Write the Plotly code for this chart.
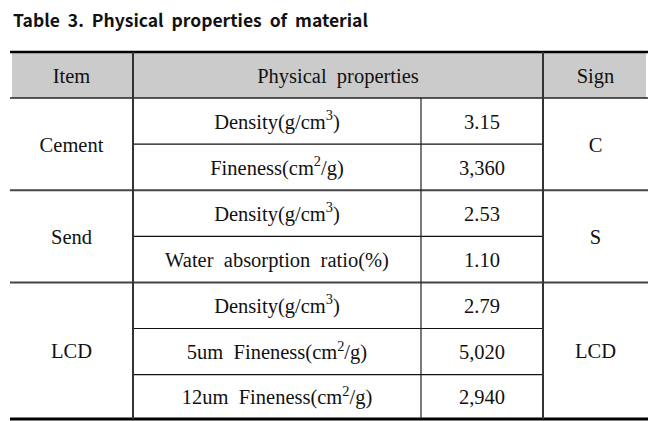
import plotly.graph_objects as go

# ---- table content ----
title = "Table  3.  Physical  properties  of  material"
headers = ["Item", "Physical  properties", "Sign"]
items = ["Cement", "Send", "LCD"]
item_rows = [2, 2, 3]
properties = [
    "Density(g/cm<sup>3</sup>)",
    "Fineness(cm<sup>2</sup>/g)",
    "Density(g/cm<sup>3</sup>)",
    "Water  absorption  ratio(%)",
    "Density(g/cm<sup>3</sup>)",
    "5um  Fineness(cm<sup>2</sup>/g)",
    "12um  Fineness(cm<sup>2</sup>/g)",
]
values = ["3.15", "3,360", "2.53", "1.10", "2.79", "5,020", "2,940"]
signs = ["C", "S", "LCD"]

# ---- geometry (page pixels) ----
W, H = 667, 421
OFF = 8  # default page body margin
col_x = [10, 133, 421, 543, 648]
top_y = 52
head_h = 46
row_h = 46.1

def nb(s):
    return s.replace("  ", " \u00a0")

row_top = [top_y + head_h + i * row_h for i in range(len(properties) + 1)]
row_top[-1] = 419
row_mid = [(row_top[i] + row_top[i + 1]) / 2 for i in range(len(properties))]

group_bounds = []
start = 0
for n in item_rows:
    group_bounds.append((start, start + n))
    start += n
group_mid = [(row_top[a] + row_top[b]) / 2 for a, b in group_bounds]

font_body = dict(family="Liberation Serif, Times New Roman, serif", size=20.5, color="#111111")
DY = 2.5

fig = go.Figure()

shapes = [dict(type="rect", x0=col_x[0] + 2, x1=col_x[-1] - 2, y0=top_y + 1, y1=top_y + head_h,
               fillcolor="#cbcbcb", line=dict(width=0), layer="below")]

def hline(y, x0, x1, w, c):
    shapes.append(dict(type="line", x0=x0, x1=x1, y0=y, y1=y, line=dict(color=c, width=w)))

def vline(x, y0, y1, w, c):
    shapes.append(dict(type="line", x0=x, x1=x, y0=y0, y1=y1, line=dict(color=c, width=w)))

hline(top_y, col_x[0], col_x[-1], 2.6, "#000000")
hline(top_y + head_h, col_x[0], col_x[-1], 1.5, "#222222")
for a, b in group_bounds[:-1]:
    hline(row_top[b], col_x[0], col_x[-1], 2.0, "#444444")
for a, b in group_bounds:
    for r in range(a + 1, b):
        hline(row_top[r], col_x[1], col_x[3], 1.2, "#111111")
hline(419, col_x[0], col_x[-1], 3.0, "#000000")
vline(col_x[1], top_y, 419, 2.0, "#333333")
vline(col_x[3], top_y, 419, 2.0, "#333333")
vline(col_x[2], top_y + head_h, 419, 1.2, "#222222")

head_x = [(col_x[0] + col_x[1]) / 2, (col_x[1] + col_x[3]) / 2, (col_x[3] + col_x[4]) / 2]
head_y = top_y + head_h / 2 + DY
fig.add_trace(go.Scatter(x=head_x, y=[head_y] * 3, mode="text", text=[nb(h) for h in headers],
                         textfont=font_body, hoverinfo="skip", showlegend=False))

fig.add_trace(go.Scatter(x=[head_x[0]] * len(items), y=[m + DY for m in group_mid], mode="text",
                         text=items, textfont=font_body, hoverinfo="skip", showlegend=False))
fig.add_trace(go.Scatter(x=[head_x[2]] * len(signs), y=[m + DY for m in group_mid], mode="text",
                         text=signs, textfont=font_body, hoverinfo="skip", showlegend=False))

prop_x = (col_x[1] + col_x[2]) / 2
val_x = (col_x[2] + col_x[3]) / 2
fig.add_trace(go.Scatter(x=[prop_x] * len(properties), y=[m + DY for m in row_mid], mode="text",
                         text=[nb(p) for p in properties], textfont=font_body,
                         hoverinfo="skip", showlegend=False))
fig.add_trace(go.Scatter(x=[val_x] * len(values), y=[m + DY for m in row_mid], mode="text",
                         text=values, textfont=font_body, hoverinfo="skip", showlegend=False))

fig.add_annotation(x=11, y=19.5, xref="x", yref="y", text="<b>" + nb(title) + "</b>",
                   showarrow=False, xanchor="left", yanchor="middle",
                   font=dict(family="Noto Sans CJK KR, Noto Sans, sans-serif", size=17.5, color="#111111"))

fig.update_layout(
    width=W - OFF, height=H - OFF, margin=dict(l=0, r=0, t=0, b=0),
    paper_bgcolor="white", plot_bgcolor="white",
    shapes=shapes,
    xaxis=dict(range=[OFF, W], visible=False, fixedrange=True),
    yaxis=dict(range=[H, OFF], visible=False, fixedrange=True),
)
fig.write_html("out.html")
